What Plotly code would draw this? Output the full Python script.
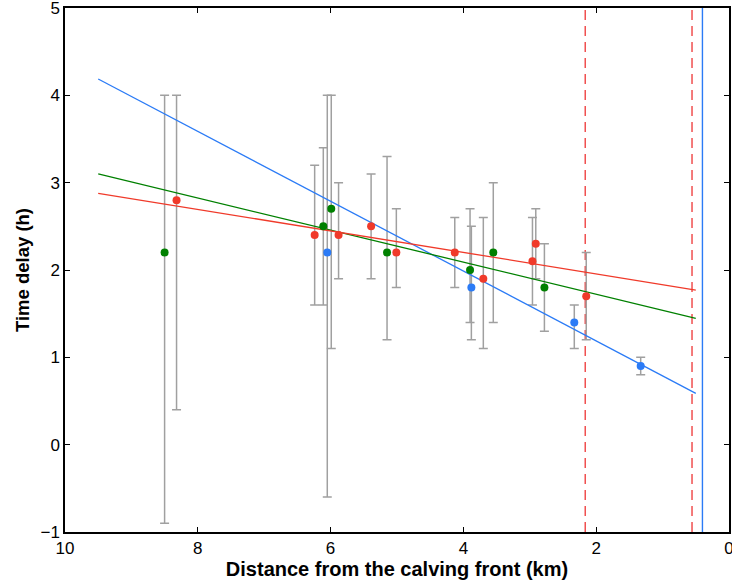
import plotly.graph_objects as go

# Observations: distance from the calving front (km), time delay (h) and delay range
red_dist = [8.32, 6.24, 5.88, 5.39, 5.01, 4.13, 3.70, 2.96, 2.91, 2.15]
red_delay = [2.8, 2.4, 2.4, 2.5, 2.2, 2.2, 1.9, 2.1, 2.3, 1.7]
red_low = [0.4, 1.6, 1.9, 1.9, 1.8, 1.8, 1.1, 1.6, 1.9, 1.2]
red_high = [4.0, 3.2, 3.0, 3.1, 2.7, 2.6, 2.6, 2.6, 2.7, 2.2]

green_dist = [8.50, 6.11, 5.99, 5.15, 3.90, 3.55, 2.78]
green_delay = [2.2, 2.5, 2.7, 2.2, 2.0, 2.2, 1.8]
green_low = [-0.9, 1.6, 1.1, 1.2, 1.4, 1.4, 1.3]
green_high = [4.0, 3.4, 4.0, 3.3, 2.7, 3.0, 2.3]

blue_dist = [6.05, 3.88, 2.33, 1.33]
blue_delay = [2.2, 1.8, 1.4, 0.9]
blue_low = [-0.6, 1.2, 1.1, 0.8]
blue_high = [4.0, 2.5, 1.6, 1.0]

# Linear fits: delay = slope * distance + intercept, drawn over fit_range
red_fit = (0.1231, 1.709)
green_fit = (0.1837, 1.355)
blue_fit = (0.3999, 0.388)
fit_range = [0.5, 9.5]

# Reference front positions (km)
red_fronts = [2.165, 0.557]
blue_front = [0.40]

x_ticks = [10, 8, 6, 4, 2, 0]
y_ticks = [-1, 0, 1, 2, 3, 4, 5]

RED = "#F03A2A"
GREEN = "#008000"
BLUE = "#2B7BF6"
DASH_RED = "#F05050"
ERR = "#A0A0A0"

fig = go.Figure()

# vertical front markers
for xv in red_fronts:
    fig.add_trace(go.Scatter(x=[xv, xv], y=[-1, 5], mode="lines",
                             line=dict(color=DASH_RED, width=1.5, dash="10px,6px"),
                             hoverinfo="skip", showlegend=False))
for xv in blue_front:
    fig.add_trace(go.Scatter(x=[xv, xv], y=[-1, 5], mode="lines",
                             line=dict(color=BLUE, width=1.4),
                             hoverinfo="skip", showlegend=False))

# error bars (grey) drawn beneath the fit lines
series = [
    (red_dist, red_delay, red_low, red_high, RED),
    (green_dist, green_delay, green_low, green_high, GREEN),
    (blue_dist, blue_delay, blue_low, blue_high, BLUE),
]
for xs, ys, lo, hi, col in series:
    fig.add_trace(go.Scatter(
        x=xs, y=ys, mode="markers",
        marker=dict(size=1, color="rgba(0,0,0,0)"),
        error_y=dict(type="data", symmetric=False,
                     array=[h - y for h, y in zip(hi, ys)],
                     arrayminus=[y - l for y, l in zip(ys, lo)],
                     color=ERR, thickness=1.5, width=4.5),
        showlegend=False, hoverinfo="skip"))

# fit lines
for (slope, icpt), col in [(blue_fit, BLUE), (green_fit, GREEN), (red_fit, RED)]:
    fig.add_trace(go.Scatter(
        x=fit_range, y=[slope * v + icpt for v in fit_range], mode="lines",
        line=dict(color=col, width=1.3), showlegend=False))

# data points
for xs, ys, lo, hi, col in series:
    fig.add_trace(go.Scatter(x=xs, y=ys, mode="markers",
                             marker=dict(size=8, color=col),
                             showlegend=False))

font_family = "Liberation Sans, Arial, sans-serif"
axis_common = dict(
    showgrid=False, zeroline=False, showline=True, mirror="allticks",
    linecolor="black", linewidth=1.5, ticks="inside", ticklen=5,
    tickcolor="black", tickwidth=1, automargin=False,
    ticklabeloverflow="allow",
    tickfont=dict(family=font_family, size=17, color="black"),
)

fig.update_layout(
    width=732, height=584,
    margin=dict(l=65, r=3, t=8, b=52),
    plot_bgcolor="white", paper_bgcolor="white",
    xaxis=dict(range=[10, 0], tickvals=x_ticks,
               ticktext=[str(v) for v in x_ticks],
               title=dict(text="<b>Distance from the calving front (km)</b>",
                          font=dict(family=font_family, size=20, color="black"),
                          standoff=2),
               **axis_common),
    yaxis=dict(range=[-1, 5], tickvals=y_ticks,
               ticktext=[str(v).replace("-", "\u2212") for v in y_ticks],
               title=dict(text="<b>Time delay (h)</b>",
                          font=dict(family=font_family, size=18.5, color="black"),
                          standoff=6),
               **axis_common),
)

fig.write_html("out.html")
